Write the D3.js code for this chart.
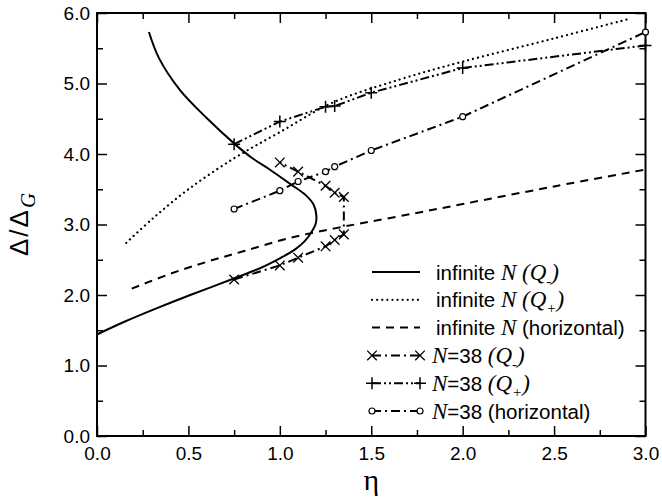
<!DOCTYPE html>
<html><head><meta charset="utf-8">
<script src="https://cdn.jsdelivr.net/npm/d3@7"></script>
<style>
html,body{margin:0;padding:0;background:#fff;}
svg{display:block;}
text{font-family:"Liberation Sans",Arial,sans-serif;fill:#000;}
.serif{font-family:"Liberation Serif","Times New Roman",serif;font-style:italic;}
</style></head>
<body>
<svg id="chart" width="662" height="500"></svg>
<script>
// ---- data ----
const xTicks = [0, 0.5, 1.0, 1.5, 2.0, 2.5, 3.0];
const yTicks = [0, 1, 2, 3, 4, 5, 6];

// infinite N (Q-)
const infQmEta   = [0.00, 0.15, 0.325, 0.51, 0.745, 0.90, 1.00, 1.08, 1.135, 1.17, 1.195, 1.20, 1.185, 1.14, 1.06, 0.95, 0.85, 0.754, 0.60, 0.453, 0.339, 0.284];
const infQmDelta = [1.44, 1.62, 1.81, 2.00, 2.23, 2.39, 2.52, 2.64, 2.76, 2.88, 3.00, 3.12, 3.28, 3.42, 3.57, 3.77, 3.94, 4.14, 4.51, 4.91, 5.36, 5.73];

// infinite N (Q+)
const infQpEta   = [0.16, 0.307, 0.50, 0.75, 1.00, 1.29, 1.66, 2.00, 2.50, 2.915];
const infQpDelta = [2.74, 3.09, 3.50, 3.94, 4.31, 4.73, 5.06, 5.31, 5.64, 5.92];

// infinite N (horizontal)
const infHEta   = [0.19, 0.40, 0.60, 0.80, 1.055, 1.35, 1.66, 2.00, 2.50, 3.00];
const infHDelta = [2.09, 2.30, 2.47, 2.62, 2.81, 2.97, 3.12, 3.29, 3.54, 3.78];

// N=38 (Q-)
const n38QmEta   = [0.75, 1.00, 1.10, 1.25, 1.30, 1.35, 1.35, 1.30, 1.25, 1.10, 1.00];
const n38QmDelta = [2.22, 2.42, 2.53, 2.69, 2.78, 2.86, 3.39, 3.45, 3.55, 3.75, 3.88];

// N=38 (Q+)
const n38QpEta   = [0.75, 1.00, 1.25, 1.30, 1.50, 2.00, 3.00];
const n38QpDelta = [4.14, 4.46, 4.67, 4.68, 4.87, 5.22, 5.54];

// N=38 (horizontal)
const n38HEta   = [0.75, 1.00, 1.10, 1.25, 1.30, 1.50, 2.00, 3.00];
const n38HDelta = [3.22, 3.48, 3.61, 3.75, 3.82, 4.05, 4.53, 5.73];

// ---- layout ----
const svg = d3.select("#chart");
const L = 97, R = 645.5, T = 13, B = 436;
const x = d3.scaleLinear().domain([0, 3]).range([L, R]);
const y = d3.scaleLinear().domain([0, 6]).range([B, T]);

const xMinor = d3.range(0, 3.001, 0.25).filter(v => Math.abs(v*2 - Math.round(v*2)) > 1e-6);
const yMinor = d3.range(0.5, 6, 1);
const MAJ = 10, MIN = 6;

function tickAxis(axisFn, scale, major, minor, translate, pad) {
  const gMaj = svg.append("g").attr("transform", translate)
    .call(axisFn(scale).tickValues(major).tickSize(-MAJ).tickPadding(pad)
      .tickFormat(d3.format(".1f")));
  const gMin = svg.append("g").attr("transform", translate)
    .call(axisFn(scale).tickValues(minor).tickSize(-MIN).tickFormat(() => ""));
  [gMaj, gMin].forEach(g => {
    g.select(".domain").remove();
    g.selectAll(".tick line").attr("stroke", "#000").attr("stroke-width", 1.5);
    g.selectAll("text").style("font-size", "19px").style("font-family", '"Liberation Sans",Arial,sans-serif');
  });
  return gMaj;
}
tickAxis(d3.axisBottom, x, xTicks, xMinor, `translate(0,${B})`, 11);
tickAxis(d3.axisLeft, y, yTicks, yMinor, `translate(${L},0)`, 7);
// top & right: inward ticks, no labels
const gTop = svg.append("g").attr("transform", `translate(0,${T})`);
gTop.call(d3.axisTop(x).tickValues(xTicks).tickSize(-MAJ).tickFormat(() => ""));
const gTop2 = svg.append("g").attr("transform", `translate(0,${T})`);
gTop2.call(d3.axisTop(x).tickValues(xMinor).tickSize(-MIN).tickFormat(() => ""));
const gRight = svg.append("g").attr("transform", `translate(${R},0)`);
gRight.call(d3.axisRight(y).tickValues(yTicks).tickSize(-MAJ).tickFormat(() => ""));
const gRight2 = svg.append("g").attr("transform", `translate(${R},0)`);
gRight2.call(d3.axisRight(y).tickValues(yMinor).tickSize(-MIN).tickFormat(() => ""));
[gTop, gTop2, gRight, gRight2].forEach(g => {
  g.select(".domain").remove();
  g.selectAll(".tick line").attr("stroke", "#000").attr("stroke-width", 1.5);
});

// frame
svg.append("rect").attr("x", L).attr("y", T).attr("width", R - L).attr("height", B - T)
  .attr("fill", "none").attr("stroke", "#000").attr("stroke-width", 2);

// axis titles
svg.append("text").attr("x", (L + R) / 2).attr("y", 490).attr("text-anchor", "middle")
  .style("font-family", '"Liberation Serif","Times New Roman",serif').style("font-size", "30px").text("η");
const yl = svg.append("text").attr("transform", `translate(28,${(T + B) / 2}) rotate(-90)`)
  .attr("text-anchor", "middle").style("font-size", "26px").style("letter-spacing", "2px");
yl.append("tspan").text("Δ/Δ");
yl.append("tspan").attr("class", "serif").attr("dy", 7).style("font-size", "21px").style("letter-spacing", "0px").text("G");

// ---- series ----
const zip = (a, b) => a.map((v, i) => [v, b[i]]);
const smooth = d3.line().x(d => x(d[0])).y(d => y(d[1])).curve(d3.curveCatmullRom.alpha(0.5));
const straight = d3.line().x(d => x(d[0])).y(d => y(d[1]));

const plot = svg.append("g");
const styles = {
  solid:  {dash: null, cap: "butt"},
  dotted: {dash: "0.1,5", cap: "round"},
  dashed: {dash: "8,6", cap: "butt"},
  dashdot: {dash: "9,4,2,4", cap: "butt"},
  dashdotdot: {dash: "9,3,2,3,2,3", cap: "butt"}
};
function drawLine(g, gen, data, st) {
  g.append("path").attr("d", gen(data)).attr("fill", "none").attr("stroke", "#000")
    .attr("stroke-width", st === "dotted" ? 2.2 : 2)
    .attr("stroke-dasharray", styles[st].dash).attr("stroke-linecap", styles[st].cap);
}
drawLine(plot, smooth, zip(infQmEta, infQmDelta), "solid");
drawLine(plot, smooth, zip(infQpEta, infQpDelta), "dotted");
drawLine(plot, smooth, zip(infHEta, infHDelta), "dashed");
drawLine(plot, straight, zip(n38QmEta, n38QmDelta), "dashdot");
drawLine(plot, straight, zip(n38QpEta, n38QpDelta), "dashdotdot");
drawLine(plot, straight, zip(n38HEta, n38HDelta), "dashdot");

function marker(g, type, px, py) {
  const s = type === "plus" ? 6 : 4.8;
  if (type === "times") {
    g.append("path").attr("d", `M${px - s},${py - s}L${px + s},${py + s}M${px - s},${py + s}L${px + s},${py - s}`)
      .attr("stroke", "#000").attr("stroke-width", 1.3).attr("fill", "none");
  } else if (type === "plus") {
    g.append("path").attr("d", `M${px - s},${py}L${px + s},${py}M${px},${py - s}L${px},${py + s}`)
      .attr("stroke", "#000").attr("stroke-width", 1.5).attr("fill", "none");
  } else {
    g.append("circle").attr("cx", px).attr("cy", py).attr("r", 3)
      .attr("fill", "#fff").attr("stroke", "#000").attr("stroke-width", 1.2);
  }
}
zip(n38QmEta, n38QmDelta).forEach(d => marker(plot, "times", x(d[0]), y(d[1])));
zip(n38QpEta, n38QpDelta).forEach(d => marker(plot, "plus", x(d[0]), y(d[1])));
zip(n38HEta, n38HDelta).forEach(d => marker(plot, "circle", x(d[0]), y(d[1])));

// ---- legend ----
const legend = [
  {st: "solid", mk: null, parts: [["s", "infinite "], ["i", "N"], ["i", " (Q"], ["sub", "-"], ["i", ")"]]},
  {st: "dotted", mk: null, parts: [["s", "infinite "], ["i", "N"], ["i", " (Q"], ["sub", "+"], ["i", ")"]]},
  {st: "dashed", mk: null, parts: [["s", "infinite "], ["i", "N"], ["s", " (horizontal)"]]},
  {st: "dashdot", mk: "times", parts: [["i", "N"], ["s", "=38 "], ["i", "(Q"], ["sub", "-"], ["i", ")"]]},
  {st: "dashdotdot", mk: "plus", parts: [["i", "N"], ["s", "=38 "], ["i", "(Q"], ["sub", "+"], ["i", ")"]]},
  {st: "dashdot", mk: "circle", parts: [["i", "N"], ["s", "=38 (horizontal)"]]}
];
const lg = svg.append("g");
legend.forEach((e, i) => {
  const cy = 272 + i * 27.8;
  const x0 = 372, x1 = 420;
  drawLine(lg, straight, [[x.invert(x0), y.invert(cy)], [x.invert(x1), y.invert(cy)]], e.st);
  if (e.mk) { marker(lg, e.mk, x0, cy); marker(lg, e.mk, x1, cy); }
  const t = lg.append("text").attr("x", e.mk ? 432 : 436).attr("y", cy + 7.5).style("font-size", "20.5px");
  let sub = false;
  e.parts.forEach(p => {
    const ts = t.append("tspan").text(p[1]);
    if (p[0] === "i") { ts.attr("class", "serif").style("font-size", "23px"); }
    if (p[0] === "sub") { ts.attr("class", "serif").style("font-size", "15px").attr("dy", 6); sub = true; }
    else if (sub) { ts.attr("dy", -6); sub = false; }
  });
});
</script>
</body></html>
